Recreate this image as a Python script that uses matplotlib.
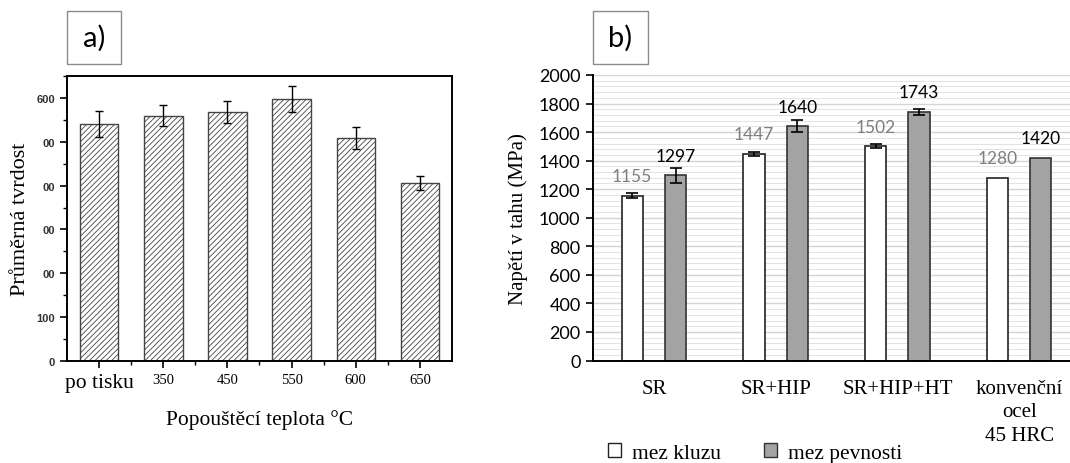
import matplotlib
matplotlib.use("Agg")
import matplotlib.pyplot as plt
import matplotlib.patches as mpatches
from matplotlib.ticker import MultipleLocator, FixedLocator

# ── data, panel a (hardness vs tempering temperature)
temper_labels = ["po tisku", "350", "450", "550", "600", "650"]
hardness = [541, 559, 567, 598, 508, 406]
hardness_err = [30, 24, 25, 30, 25, 17]
hard_ticks = [0, 100, 200, 300, 400, 500, 600]
hard_tick_labels = ["0", "100", "00", "00", "00", "00", "600"]

# ── data, panel b (tensile test)
groups = ["SR", "SR+HIP", "SR+HIP+HT", "konvenční\nocel\n45 HRC"]
yield_mpa = [1155, 1447, 1502, 1280]
yield_err = [20, 12, 15, 0]
uts_mpa = [1297, 1640, 1743, 1420]
uts_err = [52, 42, 20, 0]

SERIF = ["Liberation Serif", "DejaVu Serif"]
SANS = ["Lato", "DejaVu Sans"]

fig = plt.figure(figsize=(10.7, 4.64), dpi=100)
W, H = 1070, 464


def fig_box(x0, y0, x1, y1):
    # pixel coords (top-left origin) -> figure fraction rect
    return [x0 / W, 1 - y1 / H, (x1 - x0) / W, (y1 - y0) / H]


def panel_label(text, x0, y0, x1, y1):
    r = mpatches.Rectangle((x0 / W, 1 - y1 / H), (x1 - x0) / W, (y1 - y0) / H,
                           transform=fig.transFigure, fill=False,
                           edgecolor="#8c8c8c", linewidth=1.0)
    fig.patches.append(r)
    fig.text((x0 + x1) / 2 / W, 1 - (y0 + y1) / 2 / H, text,
             ha="center", va="center", fontsize=21, family=SANS)


# ──────────────────────────────────────────────
# PANEL A
# ──────────────────────────────────────────────
axa = fig.add_axes(fig_box(67, 77, 452, 362))
xa = list(range(len(hardness)))
plt.rcParams["hatch.linewidth"] = 0.6
plt.rcParams["hatch.color"] = "#444444"
axa.bar(xa, hardness, width=0.6, color="white", edgecolor="#444444",
        linewidth=1.0, hatch="//////", zorder=2)
axa.errorbar(xa, hardness, yerr=hardness_err, fmt="none", ecolor="black",
             elinewidth=1.0, capsize=3, capthick=1.0, zorder=3)
axa.set_xlim(-0.5, len(hardness) - 0.5)
axa.set_ylim(0, 650)
axa.yaxis.set_major_locator(FixedLocator(hard_ticks))
axa.set_yticklabels(hard_tick_labels, family=["Liberation Sans", "DejaVu Sans"],
                    fontsize=8, fontweight="bold", color="#333333")
axa.yaxis.set_minor_locator(MultipleLocator(50))
axa.set_xticks(xa)
axa.set_xticklabels(temper_labels, family=SERIF, fontsize=10.5)
axa.get_xticklabels()[0].set_fontsize(15.5)
axa.xaxis.set_minor_locator(FixedLocator([i + 0.5 for i in xa[:-1]]))
axa.tick_params(axis="both", which="major", direction="out", length=5, width=1.2)
axa.tick_params(axis="both", which="minor", direction="out", length=3, width=1.0)
axa.tick_params(axis="x", pad=4)
for s in axa.spines.values():
    s.set_linewidth(1.4)
axa.set_ylabel("Průměrná tvrdost", family=SERIF, fontsize=16, labelpad=5)
axa.set_xlabel("Popouštěcí teplota °C", family=SERIF, fontsize=15.5, labelpad=12)

panel_label("a)", 67, 12, 121, 65)

# ──────────────────────────────────────────────
# PANEL B
# ──────────────────────────────────────────────
axb = fig.add_axes(fig_box(593, 76, 1080, 361.5))
xb = list(range(len(groups)))
off, bw = 0.178, 0.175
xy = [x - off for x in xb]
xu = [x + off for x in xb]
axb.bar(xy, yield_mpa, width=bw, color="white", edgecolor="#222222",
        linewidth=1.2, zorder=2, label="mez kluzu")
axb.bar(xu, uts_mpa, width=bw, color="#a3a3a3", edgecolor="#333333",
        linewidth=1.2, zorder=2, label="mez pevnosti")
for xs, vals, errs in [(xy, yield_mpa, yield_err), (xu, uts_mpa, uts_err)]:
    px = [x for x, e in zip(xs, errs) if e > 0]
    pv = [v for v, e in zip(vals, errs) if e > 0]
    pe = [e for e in errs if e > 0]
    axb.errorbar(px, pv, yerr=pe, fmt="none", ecolor="black",
                 elinewidth=1.2, capsize=4, capthick=1.2, zorder=3)
for x, v in zip(xy, yield_mpa):
    axb.annotate(str(v), (x, v), xytext=(0, 14), textcoords="offset points",
                 ha="center", va="center", fontsize=12.5, family=SANS,
                 color="#7f7f7f")
for x, v in zip(xu, uts_mpa):
    axb.annotate(str(v), (x, v), xytext=(0, 14), textcoords="offset points",
                 ha="center", va="center", fontsize=12.5, family=SANS,
                 color="black")

axb.set_xlim(-0.5, len(groups) - 0.5)
axb.set_ylim(0, 2000)
axb.yaxis.set_major_locator(MultipleLocator(200))
axb.yaxis.set_minor_locator(MultipleLocator(40))
axb.grid(axis="y", which="major", color="#d4d4d4", linewidth=1.0, zorder=0)
axb.grid(axis="y", which="minor", color="#e3e3e3", linewidth=0.7, zorder=0)
axb.set_axisbelow(True)
axb.set_xticks(xb)
axb.set_xticklabels(groups, family=SERIF, fontsize=15, linespacing=1.35)
axb.tick_params(axis="x", length=0, pad=13)
axb.tick_params(axis="y", which="major", direction="out", length=5, width=1.2,
                labelsize=13, pad=4)
axb.tick_params(axis="y", which="minor", length=0)
for lab in axb.get_yticklabels():
    lab.set_family(SANS)
axb.spines["top"].set_visible(False)
axb.spines["right"].set_visible(False)
axb.spines["left"].set_linewidth(1.4)
axb.spines["bottom"].set_linewidth(1.4)
axb.set_ylabel("Napětí v tahu (MPa)", family=SERIF, fontsize=15, labelpad=8)

panel_label("b)", 593, 12, 648, 65)

handles = [
    mpatches.Patch(facecolor="white", edgecolor="#222222", linewidth=1.0, label="mez kluzu"),
    mpatches.Patch(facecolor="#a3a3a3", edgecolor="#333333", linewidth=1.0, label="mez pevnosti"),
]
fig.legend(handles=handles, loc="center", bbox_to_anchor=(755 / W, 1 - 454 / H),
           ncol=2, frameon=False, prop={"family": SERIF, "size": 15.5},
           handlelength=0.6, handleheight=0.6, handletextpad=0.5,
           columnspacing=2.0, borderaxespad=0)

fig.savefig("out.png", dpi=100)
